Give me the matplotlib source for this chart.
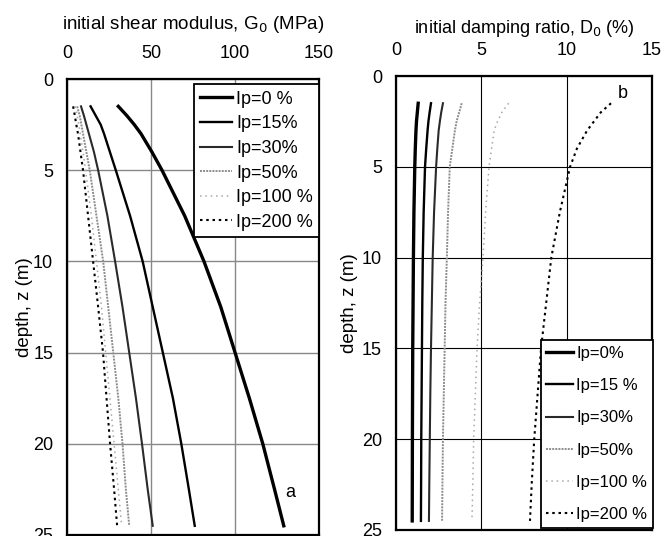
import numpy as np
import matplotlib
matplotlib.use('Agg')
import matplotlib.pyplot as plt

plt.rcParams['font.family'] = ['Liberation Sans', 'DejaVu Sans']

# depth points (m)
depth = [1.5, 2, 2.5, 3, 4, 5, 7.5, 10, 12.5, 15, 17.5, 20, 22.5, 24.5]

# initial shear modulus G0 (MPa)
g_ip0 = [30.5, 35.5, 40, 44, 50.5, 56.5, 70, 81.5, 91.5, 100, 108.5, 116.5, 123.5, 129]
g_ip15 = [14, 17, 20, 22, 25.5, 29, 37.5, 45, 51, 57, 63, 68, 72.5, 76]
g_ip30 = [8.3, 10, 11.5, 13, 16, 18.5, 24, 28.6, 33, 37, 41, 44.6, 48, 51]
g_ip50 = [6, 7.5, 8.5, 9.5, 11.5, 13.5, 17.5, 21.5, 24.5, 27.5, 30.5, 33, 35, 37]
g_ip100 = [4.8, 6, 7, 7.8, 9.5, 11, 14.5, 17.5, 20.5, 23, 25.5, 28, 30.5, 32.5]
g_ip200 = [3.6, 4.6, 5.5, 6.5, 8, 9.5, 12.5, 15.5, 18.5, 21.4, 23.5, 25.6, 28, 29.8]

# initial damping ratio D0 (%)
d_ip0 = [1.3, 1.25, 1.2, 1.17, 1.13, 1.1, 1.05, 1.02, 1.0, 0.98, 0.97, 0.96, 0.955, 0.95]
d_ip15 = [2.05, 1.97, 1.9, 1.85, 1.77, 1.7, 1.62, 1.57, 1.54, 1.52, 1.5, 1.48, 1.47, 1.46]
d_ip30 = [2.75, 2.65, 2.57, 2.5, 2.42, 2.35, 2.23, 2.15, 2.1, 2.05, 2.01, 1.98, 1.95, 1.93]
d_ip50 = [3.85, 3.7, 3.55, 3.45, 3.3, 3.15, 3.05, 2.98, 2.9, 2.85, 2.8, 2.75, 2.72, 2.7]
d_ip100 = [6.6, 6.2, 5.95, 5.75, 5.6, 5.45, 5.25, 5.1, 4.9, 4.75, 4.65, 4.55, 4.5, 4.45]
d_ip200 = [12.6, 12.0, 11.6, 11.2, 10.6, 10.2, 9.6, 9.1, 8.8, 8.5, 8.3, 8.1, 7.95, 7.85]

labels_g = ['Ip=0 %', 'Ip=15%', 'Ip=30%', 'Ip=50%', 'Ip=100 %', 'Ip=200 %']
labels_d = ['Ip=0%', 'Ip=15 %', 'Ip=30%', 'Ip=50%', 'Ip=100 %', 'Ip=200 %']

styles = [
    dict(color='black', lw=2.4, ls='-'),
    dict(color='black', lw=1.7, ls='-'),
    dict(color='#2a2a2a', lw=1.5, ls='-'),
    dict(color='#8c8c8c', lw=1.4, ls=(0, (1, 0.6))),
    dict(color='#a8a8a8', lw=1.1, ls=(0, (1, 2.5))),
    dict(color='black', lw=1.5, ls=(0, (1.2, 1.8))),
]

fig = plt.figure(figsize=(6.64, 5.36), dpi=100)
ax1 = fig.add_axes([0.101, 0.002, 0.3795, 0.8506])
ax2 = fig.add_axes([0.5964, 0.0112, 0.3855, 0.847])

for ax in (ax1, ax2):
    ax.xaxis.tick_top()
    ax.xaxis.set_label_position('top')
    ax.set_ylim(25, 0)
    ax.set_yticks([0, 5, 10, 15, 20, 25])
    ax.tick_params(length=0, labelsize=13)
    ax.tick_params(axis='x', pad=12)
    ax.tick_params(axis='y', pad=10)
    for s in ax.spines.values():
        s.set_linewidth(1.6)

ax1.set_ylabel('depth, z (m)', fontsize=13.5, labelpad=0)
ax2.set_ylabel('depth, z (m)', fontsize=13.5, labelpad=3)

legend_kw = dict(frameon=True, fancybox=False, edgecolor='black',
                 framealpha=1, handletextpad=0.2, borderaxespad=0)

# left panel
for g, lab, st in zip([g_ip0, g_ip15, g_ip30, g_ip50, g_ip100, g_ip200], labels_g, styles):
    ax1.plot(g, depth, label=lab, **st)
ax1.set_xlim(0, 150)
ax1.set_xticks([0, 50, 100, 150])
ax1.grid(True, color='#888888', lw=1.0)
ax1.set_axisbelow(True)
ax1.set_xlabel('initial shear modulus, G$_0$ (MPa)', fontsize=13.5, labelpad=12)
ax1.text(133, 22.7, 'a', fontsize=13, ha='center', va='center')
leg1 = ax1.legend(loc='upper right', bbox_to_anchor=(1.0, 0.988), fontsize=13,
                  handlelength=1.8, borderpad=0.35, labelspacing=0.42, **legend_kw)
leg1.get_frame().set_linewidth(1.3)

# right panel
for d, lab, st in zip([d_ip0, d_ip15, d_ip30, d_ip50, d_ip100, d_ip200], labels_d, styles):
    ax2.plot(d, depth, label=lab, **st)
ax2.set_xlim(0, 15)
ax2.set_xticks([0, 5, 10, 15])
ax2.grid(True, color='black', lw=0.8)
ax2.set_axisbelow(True)
ax2.set_xlabel('initial damping ratio, D$_0$ (%)', fontsize=13, labelpad=7)
ax2.text(13.3, 0.95, 'b', fontsize=13, ha='center', va='center')
leg2 = ax2.legend(loc='lower right', bbox_to_anchor=(1.005, 0.005), fontsize=12,
                  handlelength=1.6, borderpad=0.35, labelspacing=1.03, **legend_kw)
leg2.get_frame().set_linewidth(1.3)

fig.savefig('out.png', dpi=100)
